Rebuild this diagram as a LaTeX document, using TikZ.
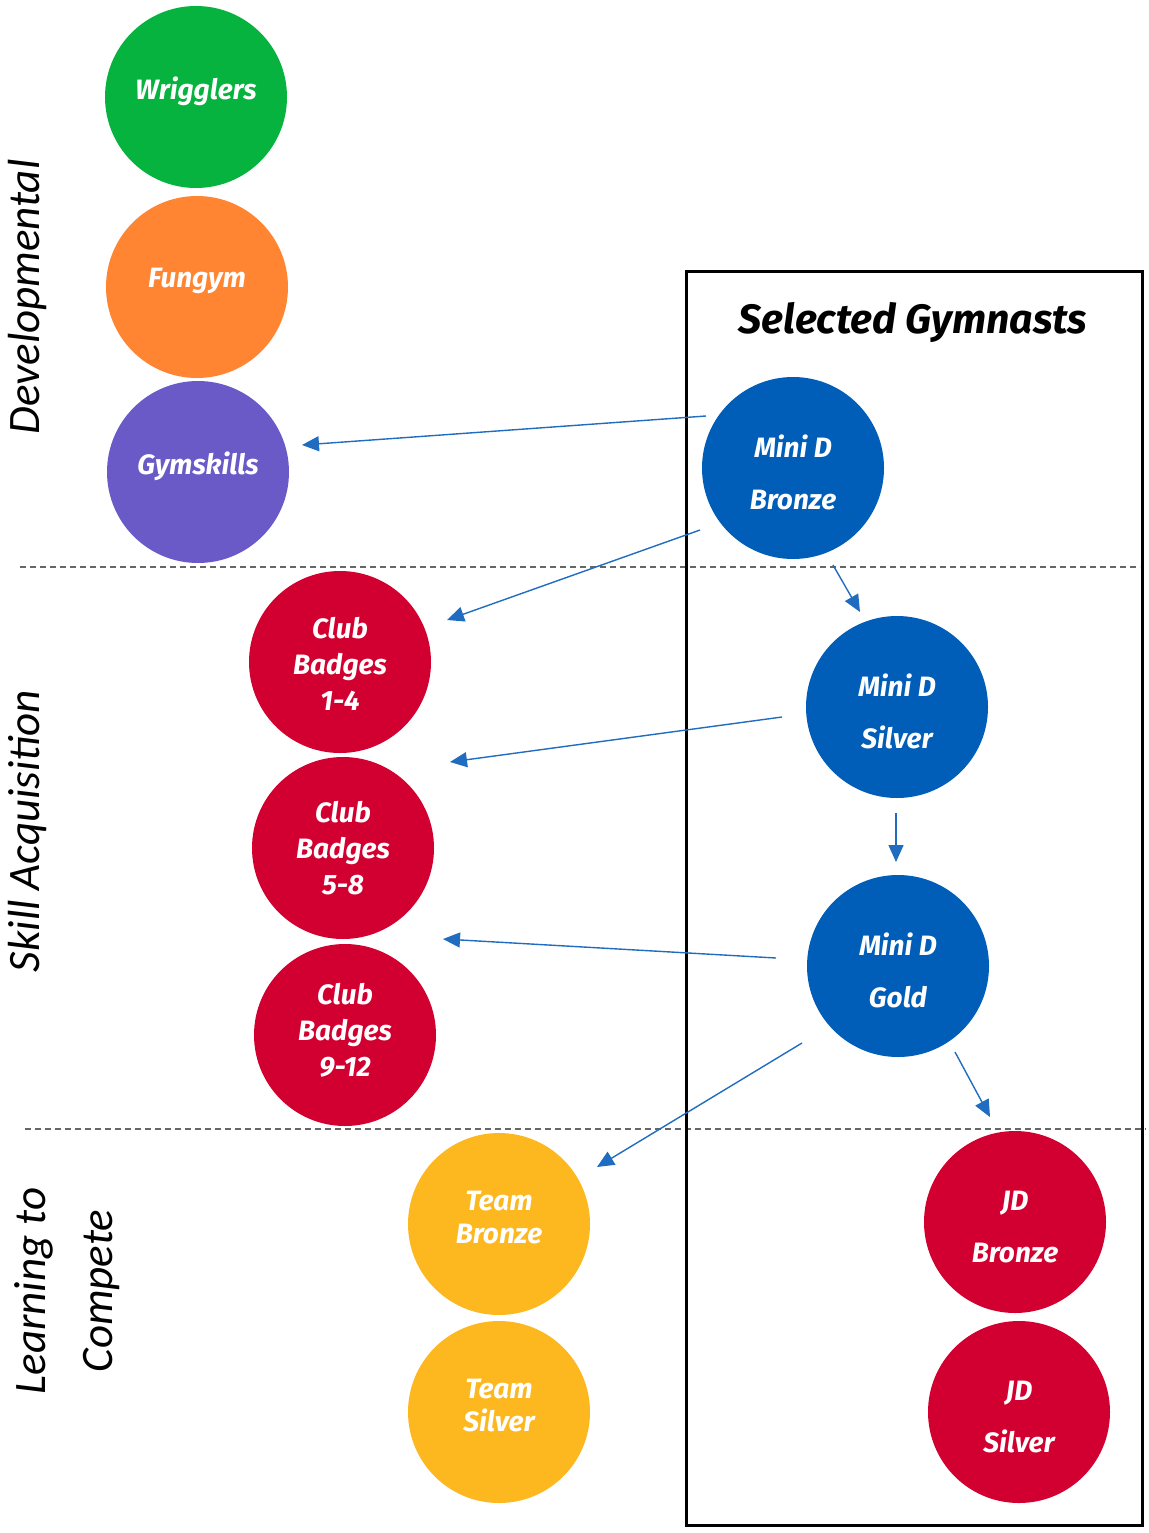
\documentclass[tikz,border=0pt]{standalone}
\usepackage{fontspec}
\setmainfont{Fira Sans}
\newfontfamily\sidefont{Carlito}
\usetikzlibrary{arrows.meta}
\usepackage{xcolor}
\definecolor{devgreen}{HTML}{06B33F}
\definecolor{devorange}{HTML}{FF8533}
\definecolor{devpurple}{HTML}{6A5AC8}
\definecolor{clubred}{HTML}{D20030}
\definecolor{teamyellow}{HTML}{FDB71F}
\definecolor{minidblue}{HTML}{005EB8}
\definecolor{linkblue}{HTML}{1F6CC0}

\begin{document}
\begin{tikzpicture}[x=1pt,y=-1pt,
  stage/.style={circle, fill=#1, minimum size=182pt, inner sep=0pt},
  lab/.style={text=white, align=center, inner sep=0pt,
    font=\fontsize{28}{36}\selectfont\bfseries\itshape},
  wide/.style={lab, font=\fontsize{28}{52}\selectfont\bfseries\itshape},
  tight/.style={lab, font=\fontsize{28}{33}\selectfont\bfseries\itshape},
  link/.style={linkblue, line width=1.4pt, -{Triangle[length=17pt,width=15pt]}},
  band/.style={dashed, dash pattern=on 6pt off 4pt, line width=1.4pt, black!60},
  side/.style={rotate=90, font=\fontsize{45}{67}\selectfont\sidefont\itshape, align=center}]
  \useasboundingbox (0,0) rectangle (1148,1533);
  % bands
  \draw[band] (20,567) -- (1140,567);
  \draw[band] (25,1129) -- (1146,1129);
  \node[side] (dev) at (28,297) {Developmental};
  \node[side] (skill) at (28,831) {Skill Acquisition};
  \node[side] (compete) at (67,1291) {Learning to\\Compete};
  % selected box
  \draw[line width=3pt] (686,271) rectangle (1142,1525);
  \node[font=\fontsize{41}{46}\selectfont\bfseries\itshape] (sel) at (913,322) {Selected Gymnasts};
  % club pathway
  \node[stage=devgreen, label={[lab, yshift=6pt]center:Wrigglers}] (wrig) at (196,97) {};
  \node[stage=devorange, label={[lab, yshift=6pt]center:Fungym}] (fun) at (197,287) {};
  \node[stage=devpurple, label={[lab, yshift=6pt]center:Gymskills}] (gym) at (198,472) {};
  \node[stage=clubred, label={[lab, yshift=-2pt]center:Club\\Badges\\1-4}] (cb1) at (340,662) {};
  \node[stage=clubred, label={[lab, yshift=0pt]center:Club\\Badges\\5-8}] (cb2) at (343,848) {};
  \node[stage=clubred, label={[lab, yshift=5pt]center:Club\\Badges\\9-12}] (cb3) at (345,1035) {};
  \node[stage=teamyellow, label={[tight, yshift=6pt]center:Team\\Bronze}] (tb) at (499,1224) {};
  \node[stage=teamyellow, label={[tight, yshift=6pt]center:Team\\Silver}] (ts) at (499,1412) {};
  % selected pathway
  \node[stage=minidblue, label={[wide, yshift=-4pt]center:Mini D\\Bronze}] (mdb) at (793,468) {};
  \node[stage=minidblue, label={[wide, yshift=-4pt]center:Mini D\\Silver}] (mds) at (897,707) {};
  \node[stage=minidblue, label={[wide, yshift=-4pt]center:Mini D\\Gold}] (mdg) at (898,966) {};
  \node[stage=clubred, label={[wide, yshift=-5pt]center:JD\\Bronze}] (jdb) at (1015,1222) {};
  \node[stage=clubred, label={[wide, yshift=-5pt]center:JD\\Silver}] (jds) at (1019,1412) {};
  % arrow ends
  \coordinate (mdbw) at (706,416);  \coordinate (gyme) at (302,445);
  \coordinate (mdbsw) at (700,530); \coordinate (cbone) at (447,620);
  \coordinate (mdbs) at (833,565);  \coordinate (mdsn) at (860,612);
  \coordinate (mdsw) at (782,717);  \coordinate (cbtwo) at (450,762);
  \coordinate (mdss) at (896,813);  \coordinate (mdgn) at (896,862);
  \coordinate (mdgw) at (776,958);  \coordinate (cbthree) at (443,939);
  \coordinate (mdgsw) at (802,1043); \coordinate (tbne) at (597,1167);
  \coordinate (mdgse) at (955,1052); \coordinate (jdbn) at (990,1117);
  \draw[link] (mdbw) -- (gyme);
  \draw[link] (mdbsw) -- (cbone);
  \draw[link] (mdbs) -- (mdsn);
  \draw[link] (mdsw) -- (cbtwo);
  \draw[link] (mdss) -- (mdgn);
  \draw[link] (mdgw) -- (cbthree);
  \draw[link] (mdgsw) -- (tbne);
  \draw[link] (mdgse) -- (jdbn);
\end{tikzpicture}
\end{document}
